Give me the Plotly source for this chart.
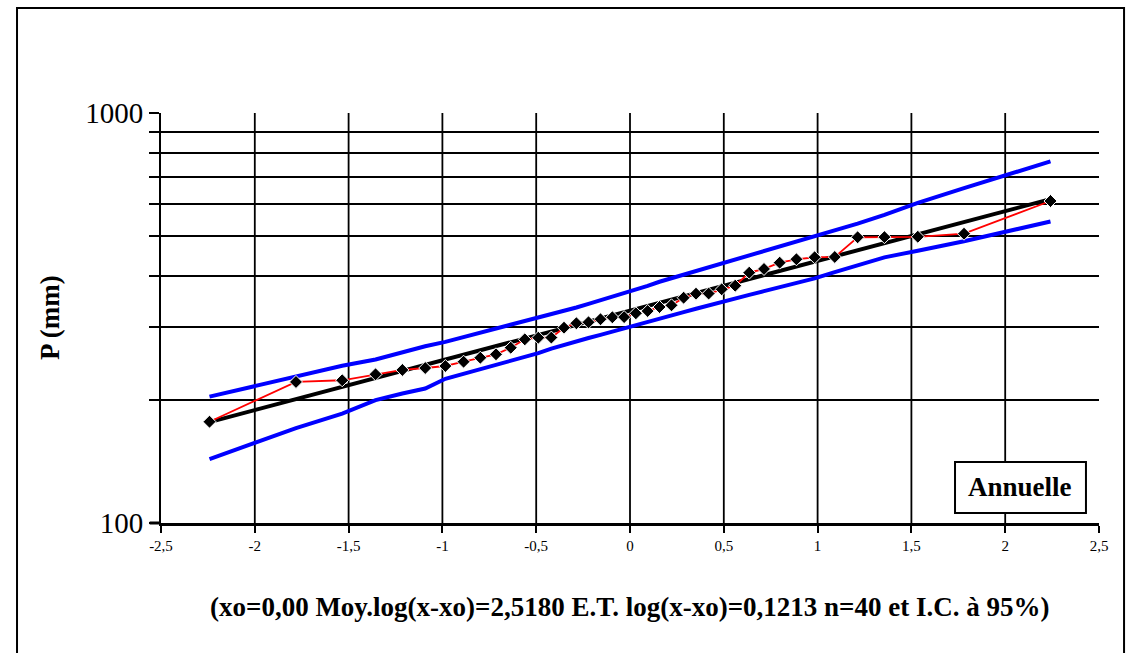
import plotly.graph_objects as go

# Normal quantiles (Hazen plotting positions, n = 40)
z_pos = [-2.2414, -1.7805, -1.5341, -1.3563, -1.2133, -1.0916, -0.9842, -0.8871,
         -0.7978, -0.7143, -0.6356, -0.5607, -0.4888, -0.4193, -0.3518, -0.2858,
         -0.2211, -0.1573, -0.0941, -0.0313, 0.0313, 0.0941, 0.1573, 0.2211,
         0.2858, 0.3518, 0.4193, 0.4888, 0.5607, 0.6356, 0.7143, 0.7978,
         0.8871, 0.9842, 1.0916, 1.2133, 1.3563, 1.5341, 1.7805, 2.2414]

# Annual precipitation, sorted (mm)
precip = [176.6, 220.8, 222.9, 230.5, 236.2, 238.8, 241.5, 247.4, 253.0, 257.9,
          267.6, 280.5, 283.1, 283.3, 299.5, 307.0, 308.7, 314.0, 317.5, 317.8,
          324.7, 328.9, 336.4, 339.6, 354.4, 362.5, 362.8, 371.5, 379.1, 407.9,
          416.5, 431.5, 439.8, 444.8, 445.5, 497.6, 498.0, 499.0, 507.7, 610.1]

# 95 % confidence bounds
ci_upper = [203.3, 228.3, 241.8, 250.5, 260.9, 269.8, 276.6, 283.9, 290.9, 297.5,
            303.9, 310.1, 316.2, 322.2, 328.7, 335.4, 342.2, 349.1, 356.0, 363.1,
            370.7, 378.9, 387.6, 395.3, 403.4, 411.9, 420.8, 430.1, 439.3, 449.3,
            460.2, 471.7, 484.6, 499.0, 516.6, 537.4, 564.0, 603.6, 655.7, 762.0]
ci_lower = [143.2, 170.3, 184.9, 199.4, 207.0, 212.8, 224.8, 231.0, 236.9, 242.7,
            248.3, 253.6, 259.5, 266.3, 272.2, 277.5, 282.6, 287.7, 293.2, 298.5,
            304.1, 309.8, 315.5, 321.1, 326.9, 333.0, 339.6, 346.6, 353.2, 360.2,
            367.8, 375.9, 384.8, 395.0, 409.0, 425.4, 444.5, 461.5, 486.8, 543.8]

# Log-normal fit parameters
xo = 0.0
mean_log = 2.5180
std_log = 0.1213
n_obs = 40

x_ticks = [-2.5, -2.0, -1.5, -1.0, -0.5, 0.0, 0.5, 1.0, 1.5, 2.0, 2.5]
x_ticktext = ["-2,5", "-2", "-1,5", "-1", "-0,5", "0", "0,5", "1", "1,5", "2", "2,5"]
y_ticks = [100, 200, 300, 400, 500, 600, 700, 800, 900, 1000]
y_ticktext = ["100", "", "", "", "", "", "", "", "", "1000"]

fit_x = [z_pos[0], z_pos[-1]]
fit_y = [xo + 10 ** (mean_log + std_log * z) for z in fit_x]

FONT = "Liberation Serif"


def fr(value, digits):
    """Number with a decimal comma."""
    return f"{value:.{digits}f}".replace(".", ",")


x_title = (f"(xo={fr(xo, 2)} Moy.log(x-xo)={fr(mean_log, 4)} "
           f"E.T. log(x-xo)={fr(std_log, 4)} n={n_obs} et I.C. à 95%)")

fig = go.Figure()

fig.add_trace(go.Scatter(x=z_pos, y=ci_upper, mode="lines",
                         line=dict(color="#0000ff", width=4), hoverinfo="skip"))
fig.add_trace(go.Scatter(x=z_pos, y=ci_lower, mode="lines",
                         line=dict(color="#0000ff", width=4), hoverinfo="skip"))
fig.add_trace(go.Scatter(x=fit_x, y=fit_y, mode="lines",
                         line=dict(color="black", width=4), hoverinfo="skip"))
fig.add_trace(go.Scatter(x=z_pos, y=precip, mode="lines+markers",
                         line=dict(color="#ff0000", width=1.8),
                         marker=dict(symbol="diamond", size=10, color="black",
                                     line=dict(color="white", width=1))))

# vertical grid lines
shapes = []
for xv in x_ticks[1:-1]:
    shapes.append(dict(type="line", xref="x", yref="paper", x0=xv, x1=xv, y0=0, y1=1,
                       line=dict(color="black", width=1.8), layer="below"))

# bottom axis extended to the left tick
shapes.append(dict(type="line", xref="paper", yref="paper", x0=-0.012, x1=0, y0=0, y1=0,
                   line=dict(color="black", width=3)))

# outer frame
shapes.append(dict(type="rect", xref="paper", yref="paper",
                   x0=-0.1535, x1=1.0267, y0=-0.335, y1=1.2561,
                   line=dict(color="black", width=2)))
# series label box
shapes.append(dict(type="rect", xref="paper", yref="paper",
                   x0=0.8465, x1=0.9861, y0=0.0244, y1=0.1488,
                   fillcolor="white", line=dict(color="black", width=2), layer="above"))

annotations = [
    dict(text="<b>Annuelle</b>", xref="paper", yref="paper", x=0.9163, y=0.0866,
         xanchor="center", yanchor="middle",
         showarrow=False, font=dict(family=FONT, size=27, color="black")),
    dict(text="<b>P (mm)</b>", xref="paper", yref="paper", x=-0.1183, y=0.5,
         xanchor="center", yanchor="middle",
         textangle=-90, showarrow=False, font=dict(family=FONT, size=27, color="black")),
    dict(text=f"<b>{x_title}</b>", xref="paper", yref="paper", x=0.4995, y=-0.205,
         xanchor="center", yanchor="middle", showarrow=False,
         font=dict(family=FONT, size=27, color="black")),
]

fig.update_layout(
    width=1134, height=653,
    margin=dict(l=161, r=35, t=113, b=130),
    paper_bgcolor="white", plot_bgcolor="white",
    showlegend=False,
    font=dict(family=FONT, color="black"),
    shapes=shapes,
    annotations=annotations,
)

fig.update_xaxes(range=[-2.5, 2.5], tickvals=x_ticks, ticktext=x_ticktext,
                 showgrid=False, zeroline=False,
                 showline=True, linecolor="black", linewidth=3,
                 ticks="outside", ticklen=7, tickwidth=1.5, tickcolor="black",
                 tickfont=dict(family=FONT, size=15, color="black"))
fig.update_yaxes(type="log", range=[2, 3], tickvals=y_ticks, ticktext=y_ticktext,
                 showgrid=True, gridcolor="black", gridwidth=1.8, zeroline=False,
                 showline=True, linecolor="black", linewidth=2,
                 ticks="outside", ticklen=10, tickwidth=1.5, tickcolor="black",
                 tickfont=dict(family=FONT, size=29, color="black"))

fig.write_html("out.html")
